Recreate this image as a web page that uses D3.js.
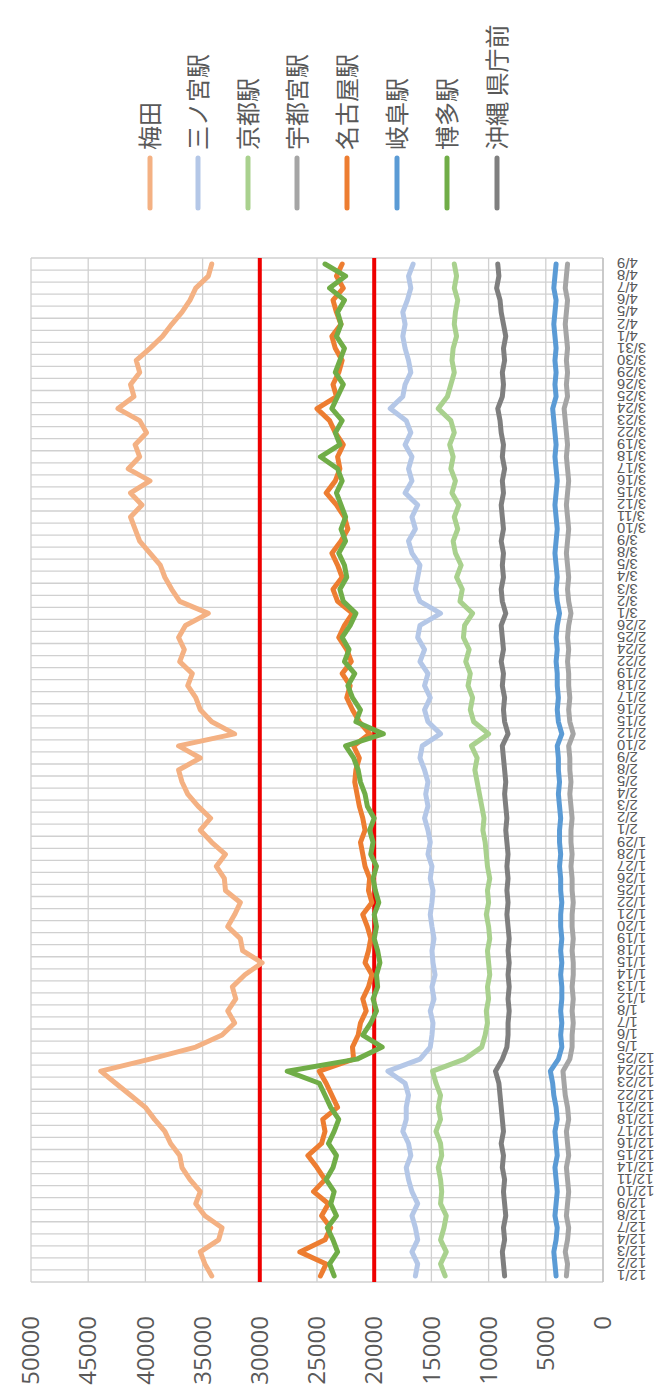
<!DOCTYPE html>
<html>
<head>
<meta charset="utf-8">
<script src="https://cdn.jsdelivr.net/npm/d3@7"></script>
<style>
  html, body { margin: 0; padding: 0; background: #fff; }
  svg { display: block; }
</style>
</head>
<body>
<svg id="chart" width="659" height="1400"></svg>
<script>
// Daily flow at stations (weekdays), Dec 2020 - Apr 2021
const dates = [
  "12/1","12/2","12/3","12/4","12/7","12/8","12/9","12/10","12/11",
  "12/14","12/15","12/16","12/17","12/18","12/21","12/22","12/23","12/24","12/25",
  "1/5","1/6","1/7","1/8","1/12","1/13","1/14","1/15","1/18","1/19","1/20","1/21","1/22",
  "1/25","1/26","1/27","1/28","1/29",
  "2/1","2/2","2/3","2/4","2/5","2/8","2/9","2/10","2/12","2/15","2/16","2/17","2/18","2/19",
  "2/22","2/24","2/25","2/26",
  "3/1","3/2","3/3","3/4","3/5","3/8","3/9","3/10","3/11","3/12","3/15","3/16","3/17","3/18","3/19",
  "3/22","3/23","3/24","3/25","3/26","3/29","3/30","3/31",
  "4/1","4/2","4/5","4/6","4/7","4/8","4/9"
];

const seriesNames = ["梅田","三ノ宮駅","京都駅","宇都宮駅","名古屋駅","岐阜駅","博多駅","沖縄 県庁前"];
const seriesColors = ["#F4B183","#B4C7E7","#A9D18E","#A5A5A5","#ED7D31","#5B9BD5","#70AD47","#7F7F7F"];

const umeda = [34200,34800,35200,33600,33300,34800,35600,35200,36100,36800,37000,37800,38300,39200,40000,41300,42600,43900,39600,
  35600,33300,32200,32800,32100,32400,31300,29800,31500,31700,32800,32200,31700,33000,33100,33800,33000,34200,
  35200,34300,35400,36300,36800,37100,35200,37100,32200,34200,35200,35600,36300,35900,37000,36600,37100,36500,
  34500,37000,37700,38300,38700,39600,40500,40900,41300,40300,41300,39600,41500,40500,40900,39900,40500,42400,
  41000,41300,40500,40800,39600,38500,37700,36800,36100,35600,34500,34200];
const sannomiya = [16400,16200,16700,16200,16400,16700,16200,16700,17000,17200,16800,17000,17500,17200,17200,17000,17300,18800,16000,
  15100,14950,14860,15100,14770,14950,14680,14860,14950,14770,14950,15100,14950,14860,15100,14950,15300,15100,
  15300,15600,15300,15500,15300,15600,16000,15800,14200,15300,15600,15100,15600,15300,16000,15600,16200,16000,
  14200,16000,16400,16200,16000,16700,17000,16400,16700,16200,17300,16700,17000,16700,17300,16800,17200,18600,
  17500,17300,16800,17000,17300,17500,17300,17500,17100,16800,17000,16600];
const kyoto = [13800,14200,13700,14200,13900,13700,14200,14100,14200,14400,14100,14200,14600,14200,14400,14200,14600,14900,12100,
  10600,10300,10100,10200,10000,10100,9900,10000,10100,9900,10000,10200,10000,10100,9900,10100,10200,10300,
  10500,10400,10600,10800,11000,11200,11000,11500,10000,11300,11600,11400,11800,11600,12000,11700,12200,12100,
  11400,12500,12300,12800,12400,12900,13100,12700,13000,12600,13200,12900,13300,13100,13400,13000,13300,14400,
  13600,13300,13000,13200,13100,12800,13000,12900,12700,13000,12800,13000];
const utsunomiya = [3200,3100,3300,3100,3000,3200,3100,3000,3100,3200,3000,3100,3200,3000,3100,3300,3400,3500,2900,
  2700,2700,2600,2700,2600,2700,2600,2600,2700,2600,2700,2700,2600,2700,2700,2800,2700,2800,
  2800,2700,2800,2900,2800,2900,2900,3000,2600,2900,3000,2900,3000,3000,3100,3000,3100,3000,
  2800,3000,3100,3000,3100,3200,3100,3000,3100,3200,3100,3000,3100,3200,3100,3200,3300,3400,
  3100,3200,3100,3200,3100,3200,3300,3200,3100,3300,3200,3100];
const nagoya = [24700,24200,26500,24300,23800,24600,24000,25300,24300,25000,25800,24600,24300,24500,23200,23700,24200,24800,21800,
  21900,21400,21200,20700,21000,20500,20200,20800,20500,20300,20600,21000,20200,20500,20400,20800,21000,21200,
  20800,21000,21300,21500,21700,21600,21300,21800,20400,21300,21900,22400,22100,22800,22000,22400,23100,22600,
  21900,23200,23600,22800,23200,23700,22900,22300,22600,23300,24200,23400,23000,23200,22700,23400,23900,25000,
  23300,23600,23100,22800,23400,23700,22900,23300,23600,22700,23300,22800];
const gifu = [4100,4200,4300,4100,4000,4200,4100,4000,4100,4200,4000,4100,4200,4000,4100,4300,4400,4600,3900,
  3600,3700,3600,3700,3600,3600,3700,3600,3700,3600,3700,3700,3600,3700,3700,3800,3700,3800,
  3800,3700,3800,3900,3800,3900,3900,4000,3600,3900,4000,3900,4000,4000,4100,4000,4100,4000,
  3800,4000,4100,4000,4100,4200,4100,4000,4100,4200,4100,4000,4100,4200,4100,4200,4300,4400,
  4100,4200,4100,4200,4100,4200,4300,4200,4100,4300,4200,4100];
const hakata = [23500,23900,23200,23600,24100,23300,23800,23500,24200,23600,23300,24000,23500,23100,23800,24300,24800,27600,21500,
  19300,21000,20300,19800,20100,19700,19800,19500,19700,20000,19800,20000,19600,19900,20100,19800,20300,20100,
  20400,20000,20600,20800,21200,21400,21800,22500,19200,21600,21200,21900,22300,21700,22600,22200,22800,22100,
  21600,22700,23000,22400,22600,23100,22500,22900,22500,22900,23300,22800,23200,24700,23000,23400,22800,23700,
  23200,22700,23400,23000,22600,23300,22900,23200,22600,23900,22500,24300];
const okinawa = [8600,8700,8800,8600,8700,8500,8600,8700,8600,8800,8700,8900,8700,8800,8900,9000,9100,9400,8800,
  8400,8300,8300,8200,8300,8200,8300,8200,8300,8200,8300,8400,8300,8400,8300,8400,8300,8400,
  8500,8400,8500,8600,8500,8600,8700,8800,8300,8600,8700,8600,8800,8700,8900,8700,8800,8900,
  8500,8800,8900,8700,8800,8700,8900,8700,8800,8900,8700,8800,8600,8800,8700,8900,9000,9200,
  8800,8700,8800,8600,8700,8500,8700,8900,9000,9300,9100,9200];

const seriesValues = [umeda, sannomiya, kyoto, utsunomiya, nagoya, gifu, hakata, okinawa];

const valueTicks = [0,5000,10000,15000,20000,25000,30000,35000,40000,45000,50000];
const guideValues = [30000, 20000];

// The chart is laid out in a landscape frame and turned a quarter turn counter-clockwise.
const W = 1400, H = 659;
const svg = d3.select("#chart");
const g = svg.append("g").attr("transform", `translate(0,${W}) rotate(-90)`);

const plot = { left: 118, right: 1142, top: 31, bottom: 603 };

const x = d3.scalePoint()
  .domain(dates)
  .range([plot.left, plot.right])
  .padding(0.5);
const band = (plot.right - plot.left) / dates.length;

const y = d3.scaleLinear().domain([0, 50000]).range([plot.bottom, plot.top]);

const textColor = "#595959";
const gridColor = "#D0D0D0";

// horizontal value gridlines
g.append("g").selectAll("line")
  .data(valueTicks)
  .join("line")
  .attr("x1", plot.left).attr("x2", plot.right)
  .attr("y1", d => y(d)).attr("y2", d => y(d))
  .attr("stroke", gridColor).attr("stroke-width", 1.3);

// vertical category gridlines (between categories)
const boundaries = d3.range(dates.length + 1).map(i => plot.left + i * band);
g.append("g").selectAll("line")
  .data(boundaries)
  .join("line")
  .attr("x1", d => d).attr("x2", d => d)
  .attr("y1", plot.top).attr("y2", plot.bottom)
  .attr("stroke", gridColor).attr("stroke-width", 1.3);

// category axis line
g.append("line")
  .attr("x1", plot.left).attr("x2", plot.right)
  .attr("y1", plot.bottom).attr("y2", plot.bottom)
  .attr("stroke", "#BFBFBF").attr("stroke-width", 1.3);

// value axis labels
const yAxis = d3.axisLeft(y).tickValues(valueTicks).tickSize(0).tickPadding(34).tickFormat(d3.format("d"));
const yAxisG = g.append("g").attr("transform", `translate(${plot.left},0)`).call(yAxis);
yAxisG.select(".domain").remove();
yAxisG.selectAll("text")
  .attr("fill", textColor)
  .style("font-family", "'Open Sans', 'Liberation Sans', sans-serif")
  .style("font-size", "24px");

// category labels, vertical
const xAxis = d3.axisBottom(x).tickSize(0).tickPadding(0);
const xAxisG = g.append("g").attr("transform", `translate(0,${plot.bottom})`).call(xAxis);
xAxisG.select(".domain").remove();
xAxisG.selectAll("text")
  .attr("fill", textColor)
  .style("font-family", "'Liberation Sans', Arial, sans-serif")
  .style("font-size", "15px")
  .attr("text-anchor", "end")
  .attr("transform", "rotate(-90)")
  .attr("x", -14)
  .attr("y", 0)
  .attr("dy", "0.35em");

// reference lines
g.append("g").selectAll("line")
  .data(guideValues)
  .join("line")
  .attr("x1", plot.left).attr("x2", plot.right)
  .attr("y1", d => y(d)).attr("y2", d => y(d))
  .attr("stroke", "#EE0000").attr("stroke-width", 4);

// series lines
const line = d3.line()
  .x((d, i) => x(dates[i]))
  .y(d => y(d))
  .curve(d3.curveLinear);

g.append("g").selectAll("path")
  .data(seriesValues)
  .join("path")
  .attr("d", d => line(d))
  .attr("fill", "none")
  .attr("stroke", (d, i) => seriesColors[i])
  .attr("stroke-width", 5)
  .attr("stroke-linejoin", "round")
  .attr("stroke-linecap", "round");

// legend
const legendX = 1192;
const legendY = [150, 198, 248, 297, 347, 397, 447, 497];
const legend = g.append("g").selectAll("g")
  .data(seriesNames)
  .join("g")
  .attr("transform", (d, i) => `translate(${legendX},${legendY[i]})`);
legend.append("line")
  .attr("x1", 0).attr("x2", 50)
  .attr("y1", 0).attr("y2", 0)
  .attr("stroke", (d, i) => seriesColors[i])
  .attr("stroke-width", 5)
  .attr("stroke-linecap", "round");
legend.append("text")
  .attr("x", 58)
  .attr("y", 0)
  .attr("dy", "0.36em")
  .attr("fill", textColor)
  .style("font-family", "'Noto Sans CJK JP', sans-serif")
  .style("font-size", "24px")
  .text(d => d);
</script>
</body>
</html>
